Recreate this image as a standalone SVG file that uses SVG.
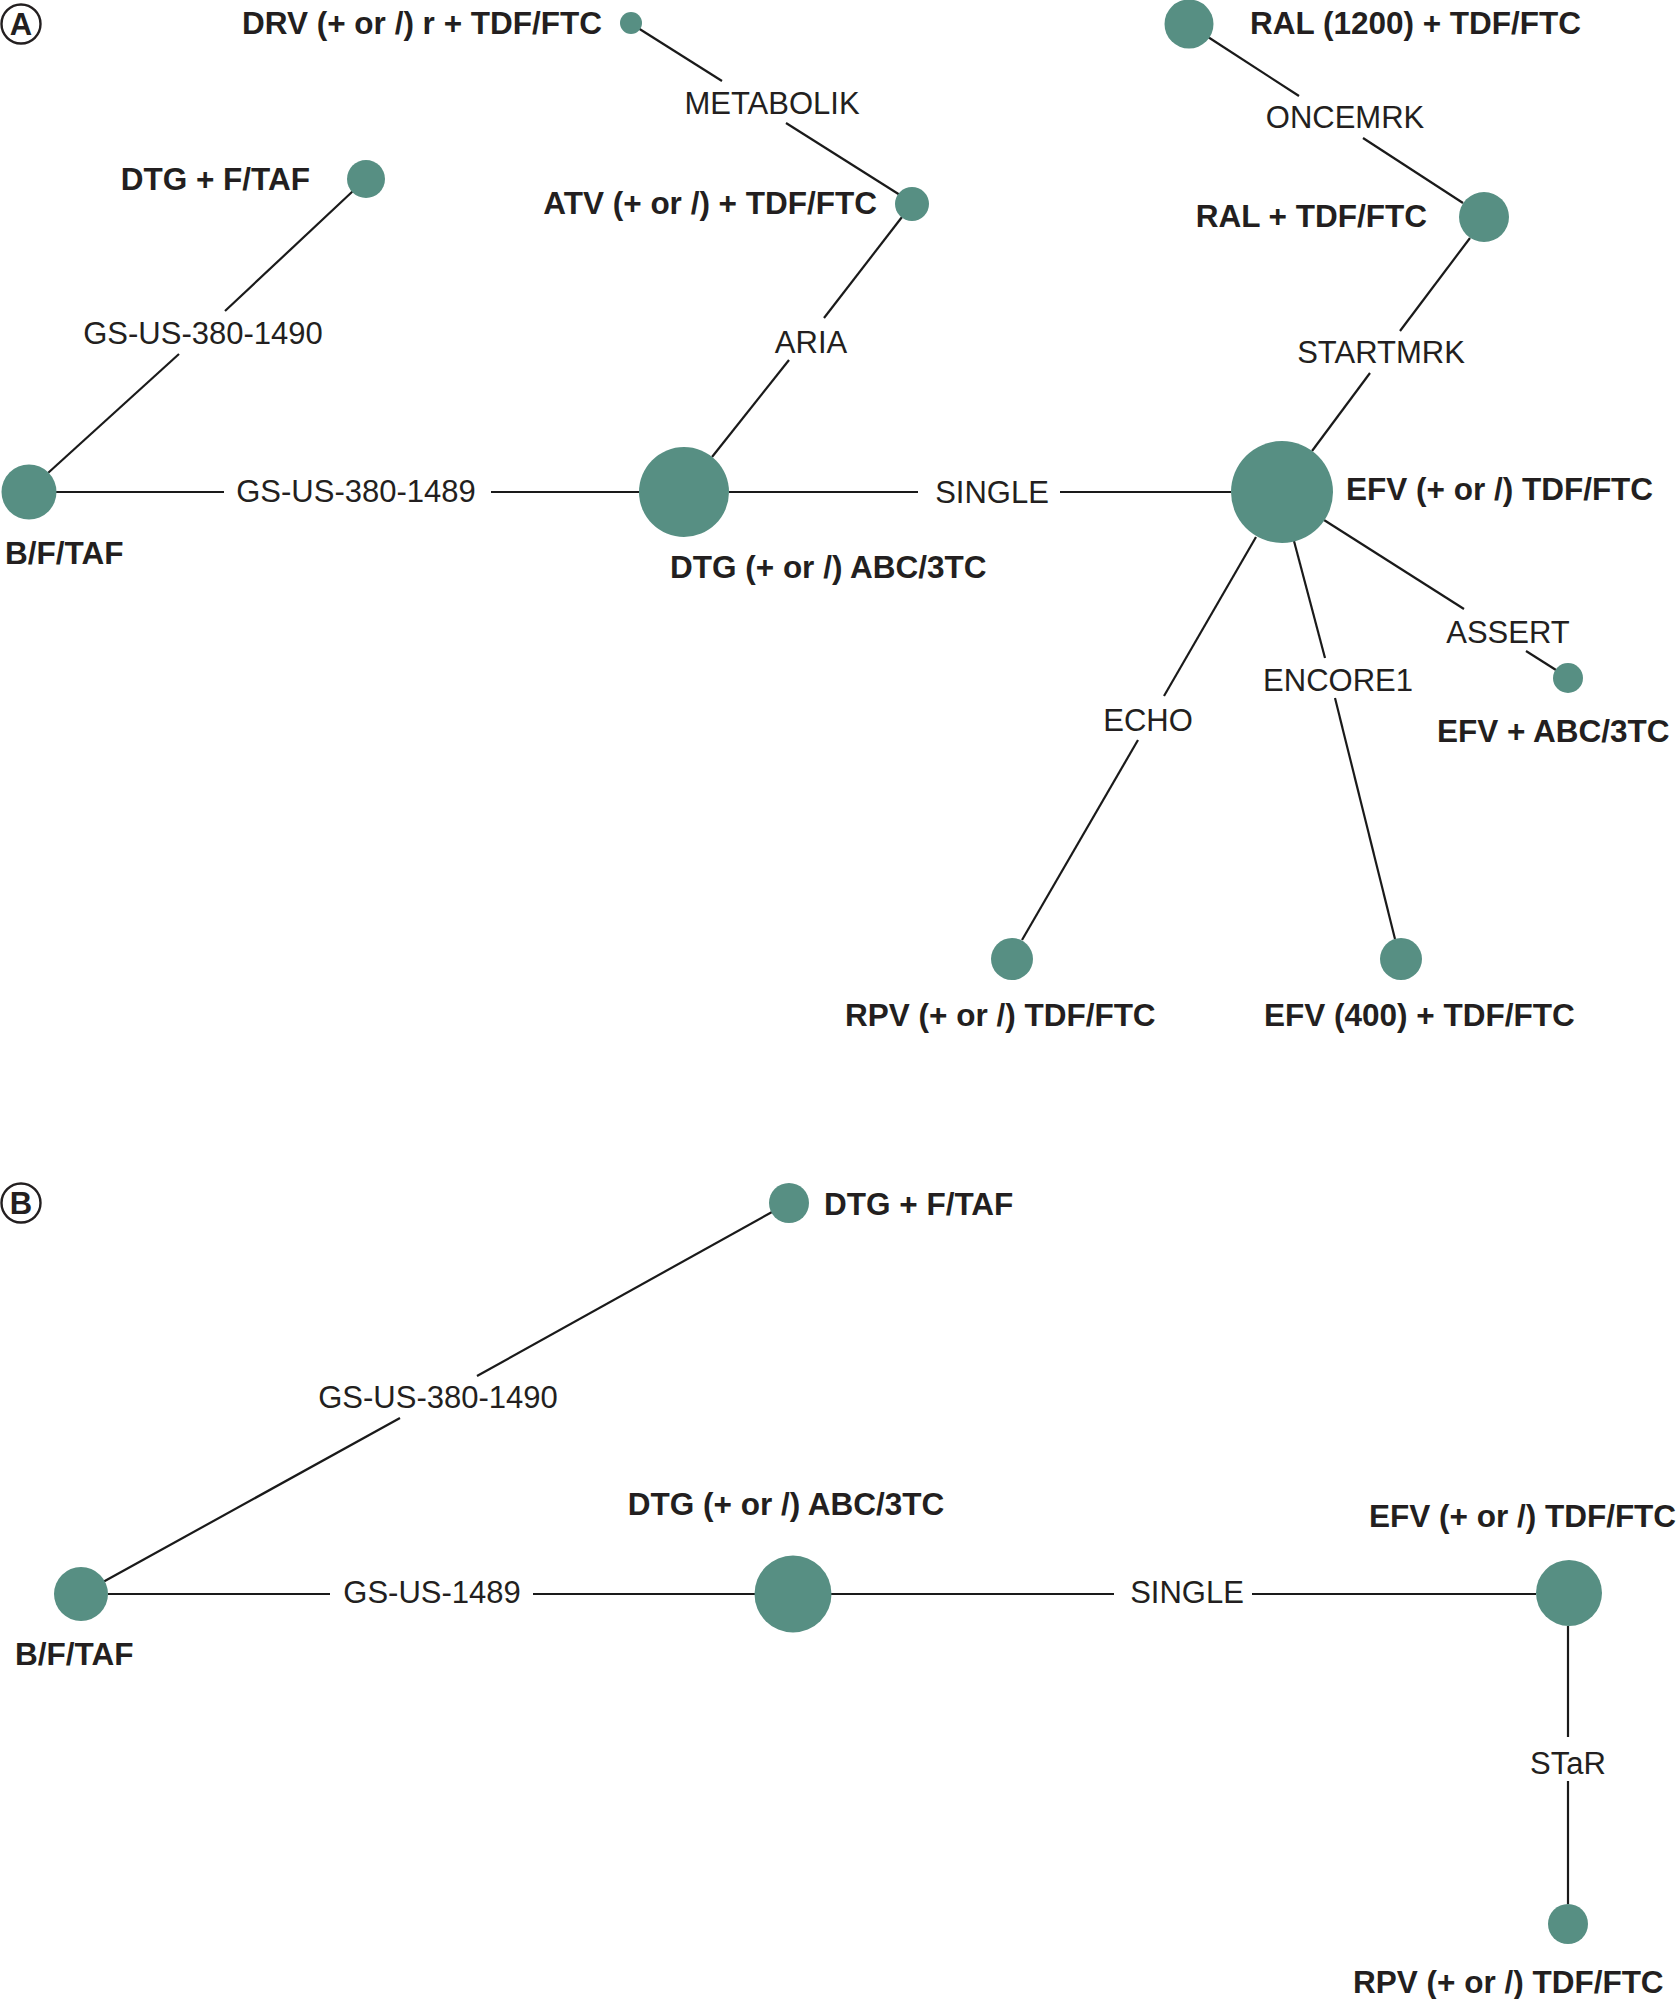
<svg xmlns="http://www.w3.org/2000/svg" width="1676" height="1999" viewBox="0 0 1676 1999">
<style>
.bg{fill:#ffffff}
.node{fill:#578f83}
.edge{stroke:#1a1a1a;stroke-width:2.2;fill:none;stroke-linecap:butt}
.nl{font-family:"Liberation Sans",Arial,sans-serif;font-weight:bold;font-size:31.5px;fill:#231f20}
.el{font-family:"Liberation Sans",Arial,sans-serif;font-size:31px;fill:#231f20;text-anchor:middle}
.panel{fill:#ffffff;stroke:#231f20;stroke-width:2.4}
.pl{font-family:"Liberation Sans",Arial,sans-serif;font-weight:bold;font-size:31px;fill:#231f20;text-anchor:middle}
</style>
<rect class="bg" x="0" y="0" width="1676" height="1999"/>

<g id="panel-labels">
<circle class="panel" cx="21" cy="24" r="19.5"/>
<text class="pl" x="21" y="35">A</text>
<circle class="panel" cx="21" cy="1203" r="19.5"/>
<text class="pl" x="21" y="1214">B</text>
</g>

<g id="connectors">
<!-- Panel A -->
<line class="edge" x1="638" y1="28" x2="722" y2="81"/>
<line class="edge" x1="786" y1="123" x2="900" y2="195"/>
<line class="edge" x1="902" y1="217" x2="824" y2="318"/>
<line class="edge" x1="789" y1="360" x2="712" y2="457"/>
<line class="edge" x1="353" y1="191" x2="225" y2="311"/>
<line class="edge" x1="179" y1="354" x2="48" y2="473"/>
<line class="edge" x1="56" y1="492" x2="224" y2="492"/>
<line class="edge" x1="491" y1="492" x2="639" y2="492"/>
<line class="edge" x1="729" y1="492" x2="918" y2="492"/>
<line class="edge" x1="1060" y1="492" x2="1231" y2="492"/>
<line class="edge" x1="1470" y1="238" x2="1400" y2="331"/>
<line class="edge" x1="1370" y1="373" x2="1312" y2="451"/>
<line class="edge" x1="1208" y1="37" x2="1299" y2="96"/>
<line class="edge" x1="1363" y1="138" x2="1463" y2="203"/>
<line class="edge" x1="1324" y1="520" x2="1464" y2="609"/>
<line class="edge" x1="1526" y1="651" x2="1556" y2="670"/>
<line class="edge" x1="1294" y1="541" x2="1325" y2="658"/>
<line class="edge" x1="1335" y1="698" x2="1395" y2="939"/>
<line class="edge" x1="1256" y1="537" x2="1164" y2="696"/>
<line class="edge" x1="1138" y1="740" x2="1022" y2="940"/>
<!-- Panel B -->
<line class="edge" x1="103" y1="1582" x2="400" y2="1418"/>
<line class="edge" x1="477" y1="1376" x2="772" y2="1212"/>
<line class="edge" x1="108" y1="1594" x2="330" y2="1594"/>
<line class="edge" x1="533" y1="1594" x2="755" y2="1594"/>
<line class="edge" x1="831" y1="1594" x2="1114" y2="1594"/>
<line class="edge" x1="1252" y1="1594" x2="1536" y2="1594"/>
<line class="edge" x1="1568" y1="1626" x2="1568" y2="1737"/>
<line class="edge" x1="1568" y1="1781" x2="1568" y2="1904"/>
</g>

<g id="edge-labels">
<text class="el" x="772" y="114">METABOLIK</text>
<text class="el" x="811" y="353">ARIA</text>
<text class="el" x="203" y="344">GS-US-380-1490</text>
<text class="el" x="356" y="502">GS-US-380-1489</text>
<text class="el" x="992" y="503">SINGLE</text>
<text class="el" x="1345" y="128">ONCEMRK</text>
<text class="el" x="1381" y="363">STARTMRK</text>
<text class="el" x="1508" y="643">ASSERT</text>
<text class="el" x="1338" y="691">ENCORE1</text>
<text class="el" x="1148" y="731">ECHO</text>
<text class="el" x="438" y="1408">GS-US-380-1490</text>
<text class="el" x="432" y="1603">GS-US-1489</text>
<text class="el" x="1187" y="1603">SINGLE</text>
<text class="el" x="1568" y="1774">STaR</text>
</g>

<!-- Panel A nodes -->
<g id="a-drv"><circle class="node" cx="631" cy="23" r="11"/><text class="nl" x="602" y="34" text-anchor="end">DRV (+ or /) r + TDF/FTC</text></g>
<g id="a-atv"><circle class="node" cx="912" cy="204" r="17"/><text class="nl" x="877" y="214" text-anchor="end">ATV (+ or /) + TDF/FTC</text></g>
<g id="a-dtg-ftaf"><circle class="node" cx="366" cy="179" r="19"/><text class="nl" x="310" y="190" text-anchor="end">DTG + F/TAF</text></g>
<g id="a-bftaf"><circle class="node" cx="29" cy="492" r="27.5"/><text class="nl" x="5" y="564">B/F/TAF</text></g>
<g id="a-dtg-abc"><circle class="node" cx="684" cy="492" r="45"/><text class="nl" x="670" y="578">DTG (+ or /) ABC/3TC</text></g>
<g id="a-efv"><circle class="node" cx="1282" cy="492" r="51"/><text class="nl" x="1346" y="500">EFV (+ or /) TDF/FTC</text></g>
<g id="a-ral1200"><circle class="node" cx="1189" cy="24" r="24.5"/><text class="nl" x="1250" y="34">RAL (1200) + TDF/FTC</text></g>
<g id="a-ral"><circle class="node" cx="1484" cy="217" r="25"/><text class="nl" x="1427" y="227" text-anchor="end">RAL + TDF/FTC</text></g>
<g id="a-efv-abc"><circle class="node" cx="1568" cy="678" r="15"/><text class="nl" x="1437" y="742">EFV + ABC/3TC</text></g>
<g id="a-rpv"><circle class="node" cx="1012" cy="959" r="21"/><text class="nl" x="845" y="1026">RPV (+ or /) TDF/FTC</text></g>
<g id="a-efv400"><circle class="node" cx="1401" cy="959" r="21"/><text class="nl" x="1264" y="1026">EFV (400) + TDF/FTC</text></g>

<!-- Panel B nodes -->
<g id="b-dtg-ftaf"><circle class="node" cx="789" cy="1203" r="20"/><text class="nl" x="824" y="1215">DTG + F/TAF</text></g>
<g id="b-bftaf"><circle class="node" cx="81" cy="1594" r="27"/><text class="nl" x="15" y="1665">B/F/TAF</text></g>
<g id="b-dtg-abc"><circle class="node" cx="793" cy="1594" r="38.5"/><text class="nl" x="786" y="1515" text-anchor="middle">DTG (+ or /) ABC/3TC</text></g>
<g id="b-efv"><circle class="node" cx="1569" cy="1593" r="33"/><text class="nl" x="1369" y="1527">EFV (+ or /) TDF/FTC</text></g>
<g id="b-rpv"><circle class="node" cx="1568" cy="1924" r="20"/><text class="nl" x="1353" y="1993">RPV (+ or /) TDF/FTC</text></g>
</svg>
